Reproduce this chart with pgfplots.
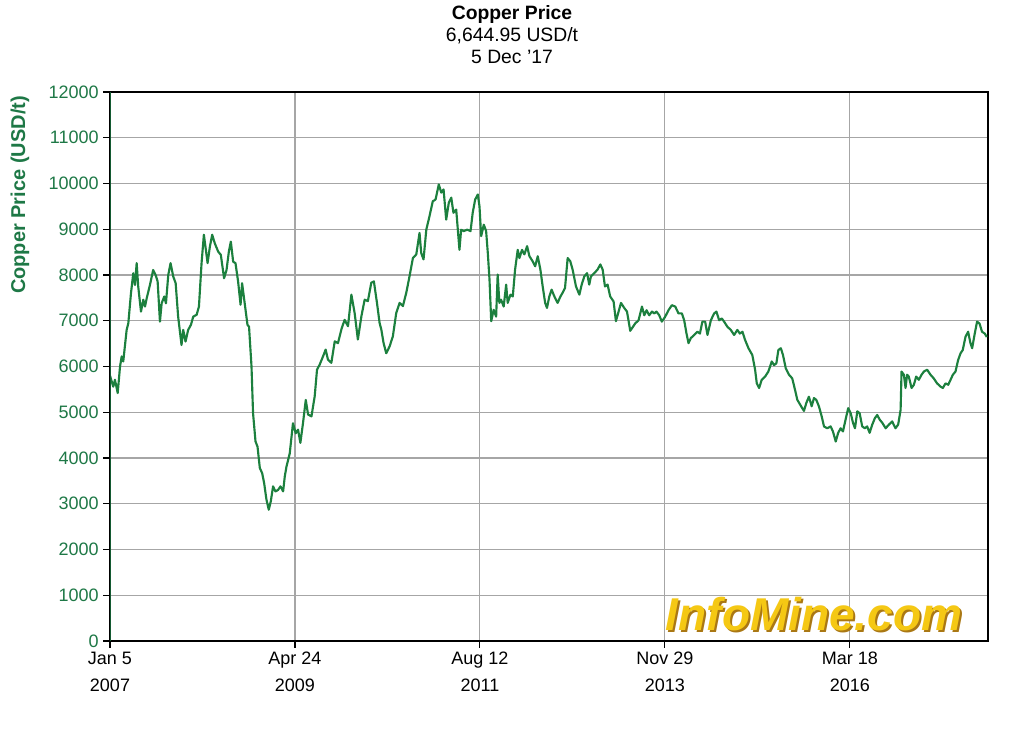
\documentclass[border=0pt]{standalone}
\usepackage{pgfplots}
\pgfplotsset{compat=1.18}
\usepackage{fontspec}
\setmainfont{Liberation Sans}
\definecolor{cugreen}{RGB}{28,128,62}
\definecolor{lblgreen}{RGB}{30,120,70}
\definecolor{axgreen}{RGB}{20,90,50}
\definecolor{wmyellow}{RGB}{245,200,20}
\definecolor{wmshadow}{RGB}{170,120,20}
\begin{document}
\begin{tikzpicture}[x=0.75pt,y=0.75pt]
\path (0,0) rectangle (1024,732);
\begin{axis}[
  at={(82.5pt,68.25pt)}, anchor=south west,
  scale only axis, width=658.5pt, height=411.75pt,
  xmin=0, xmax=569.6, ymin=0, ymax=12000,
  xtick={0,120,240,360,480},
  xticklabels={{Jan 5\\2007},{Apr 24\\2009},{Aug 12\\2011},{Nov 29\\2013},{Mar 18\\2016}},
  xticklabel style={align=center, font=\fontsize{13.5}{20}\selectfont, text=black},
  ytick={0,1000,...,12000},
  yticklabel style={font=\fontsize{13.5}{16}\selectfont, text=lblgreen},
  /pgf/number format/assume math mode=true,
  /pgf/number format/set thousands separator={},
  scaled y ticks=false,
  grid=major, grid style={gray!70, line width=0.8pt},
  xtick pos=bottom, ytick pos=left, tick align=outside,
  major tick length=5pt,
  tick style={black, line width=0.8pt},
  axis line style={black, line width=1.2pt},
  axis background/.style={fill=white},
]
\addplot[cugreen, line width=1.6pt, line join=round] coordinates {
(0,5800)(2.1,5560)(3.2,5710)(5.0,5420)(6.5,6000)(7.6,6220)(8.6,6110)(10.8,6800)(11.9,6950)
(13.6,7600)(15.1,8040)(16.2,7780)(17.3,8260)(18.3,7750)(20.1,7200)(21.6,7460)(22.7,7310)
(23.8,7490)(25.9,7780)(28.0,8110)(29.6,8000)(30.9,7860)(32.4,6980)(33.5,7380)(35.2,7530)
(36.3,7380)(37.8,8000)(39.3,8260)(41.0,7970)(42.6,7820)(44.2,7090)(46.4,6470)(47.5,6800)
(49.0,6545)(50.7,6800)(52.5,6910)(54.0,7090)(56.2,7130)(57.7,7310)(59.4,8260)(60.9,8880)
(62.2,8550)(63.3,8260)(64.8,8620)(66.3,8880)(68.0,8690)(70.2,8510)(71.9,8440)(74.0,7930)
(75.6,8110)(77.1,8510)(78.4,8730)(79.9,8290)(81.4,8260)(83.1,7860)(84.7,7350)(85.7,7820)
(87.5,7350)(89.2,6910)(90.2,6870)(91.8,6000)(92.8,4980)(94.4,4360)(95.7,4250)(97.2,3780)
(98.7,3670)(100.0,3450)(101.5,3090)(103.0,2870)(104.3,3050)(105.8,3380)(107.3,3270)
(109.0,3300)(110.6,3380)(112.3,3270)(113.4,3600)
(114.5,3815)(116.6,4100)(118.7,4760)(120.5,4540)(122.0,4620)(123.5,4330)(125.2,4760)
(127.0,5270)(128.5,4950)(130.7,4910)(132.8,5350)(134.3,5930)(136.0,6040)(138.2,6220)
(139.9,6370)(141.4,6150)(143.6,6080)(145.8,6550)(147.9,6510)(150.1,6810)(152.2,7020)
(154.4,6880)(156.6,7570)(158.7,7170)(160.8,6590)(163.1,7100)(165.2,7460)(167.3,7430)
(169.5,7830)(171.2,7860)(173.2,7390)(174.9,6950)(176.0,6810)(177.5,6510)(179.2,6290)
(181.4,6440)(183.5,6660)(185.7,7170)(187.9,7390)(190.0,7320)(192.2,7610)(194.3,7970)
(196.5,8370)(198.7,8450)(200.8,8920)(201.9,8480)(203.4,8340)(205.2,8990)(207.3,9290)
(209.4,9610)(211.2,9650)(213.3,9980)(214.9,9800)(216.4,9870)(218.1,9210)(219.8,9580)
(221.4,9690)(222.8,9360)(224.6,9430)
(226.7,8550)(227.8,8990)(229.5,8960)(231.7,8990)(233.9,8960)(235.3,9360)(236.9,9650)
(238.6,9760)(239.7,9500)(240.8,8850)(242.5,9100)(244.0,8960)(245.1,8480)(246.2,7900)
(247.3,6990)(248.9,7240)(250.5,7090)(251.5,8010)(252.6,7390)(253.7,7460)(255.4,7310)
(257.0,7790)(258.0,7390)(259.8,7570)(261.3,7530)(262.8,8120)(264.5,8550)(265.6,8370)
(267.3,8550)(268.8,8450)(270.6,8630)(272.1,8410)(274.2,8300)(275.8,8190)(277.5,8410)
(279.2,8120)(280.7,7750)(282.3,7390)(283.5,7280)(285.0,7530)(286.5,7680)(288.3,7530)
(290.4,7390)(292.2,7530)(293.6,7610)(295.2,7720)(296.9,8370)(298.6,8300)(300.1,8120)
(302.3,7750)(304.5,7570)(306.0,7790)(307.7,7970)(309.5,8040)(310.9,7790)(312.0,7970)
(314.2,8040)(316.3,8120)(318.1,8230)(319.6,8120)(321.1,7750)(322.8,7790)(324.5,7530)
(326.7,7420)(328.2,6990)(329.7,7170)(331.5,7390)(333.6,7280)(335.4,7200)(337.5,6780)
(340.7,6940)(342.9,7010)(345.1,7310)(346.6,7120)(348.1,7230)(349.8,7120)(351.6,7200)
(353.1,7160)(354.5,7200)(356.3,7120)(358.0,6980)(360.2,7090)(362.3,7230)(364.5,7340)
(366.7,7310)(368.8,7160)(371.0,7160)(372.5,7010)(374.0,6720)(375.3,6510)(376.8,6620)
(379.0,6690)(381.1,6760)(382.7,6720)(384.3,6980)(386.1,6980)(387.6,6690)(389.8,7010)
(391.9,7160)(393.4,7200)(395.2,7010)(396.9,7050)(398.4,6980)(400.5,6870)(402.7,6800)
(404.9,6690)(407.0,6800)(408.6,6720)(410.3,6760)(412.0,6580)(414.2,6400)(416.7,6250)
(418.5,5930)(419.6,5630)(421.1,5530)(422.8,5710)(425.0,5780)(427.1,5890)(429.3,6110)
(430.8,6030)(432.3,6070)(433.6,6360)(435.2,6400)(436.6,6250)(438.4,5960)(440.5,5820)
(442.6,5740)(444.4,5490)(445.9,5270)(447.5,5180)(448.7,5110)(450.2,5030)(451.7,5200)
(453.4,5340)(455.2,5130)(456.7,5310)(458.2,5270)(459.9,5130)(461.7,4910)(463.2,4690)
(465.3,4650)(467.5,4690)(469.0,4580)(470.8,4360)(472.4,4550)(474.0,4650)(475.5,4580)
(477.2,4840)(478.9,5090)(480.5,4980)(482.0,4770)(483.3,4650)(484.8,5020)(486.3,4980)
(488.0,4690)(489.7,4650)(491.2,4690)(492.8,4550)(494.5,4730)(496.2,4870)(497.7,4940)
(499.3,4840)(501.0,4770)(503.2,4650)(505.3,4730)(507.4,4800)(509.6,4650)(511.3,4730)
(512.9,5050)(513.5,5890)(515.0,5820)(516.1,5530)(517.1,5820)(518.2,5780)(520.0,5530)
(521.5,5600)(523.0,5780)(524.7,5710)(526.5,5820)(528.0,5890)(530.1,5930)(532.3,5820)
(534.4,5740)(536.6,5630)(538.8,5560)(540.3,5530)(542.0,5630)(543.8,5600)(545.3,5710)
(546.8,5820)(548.5,5890)(550.2,6140)(551.8,6290)(553.2,6360)(555.0,6650)(556.7,6760)
(558.2,6510)(559.3,6400)(561.0,6720)(562.5,6980)(564.1,6940)(565.7,6760)(567.5,6720)
(568.8,6645)
};
\draw[axgreen, line width=1.6pt] (rel axis cs:0,0) -- (rel axis cs:0,1);
\end{axis}
\node[align=center, font=\fontsize{14.5}{16.5}\selectfont, anchor=center] at (512,697)
  {\textbf{Copper Price}\\6,644.95 USD/t\\5 Dec '17};
\node[rotate=90, font=\bfseries\fontsize{15}{17}\selectfont, text=lblgreen] at (20,537)
  {Copper Price (USD/t)};
\node[font=\bfseries\itshape\fontsize{34.5}{34}\selectfont, text=wmshadow] at (816,116) {InfoMine.com};
\node[font=\bfseries\itshape\fontsize{34.5}{34}\selectfont, text=wmyellow] at (814,118) {InfoMine.com};
\end{tikzpicture}
\end{document}
